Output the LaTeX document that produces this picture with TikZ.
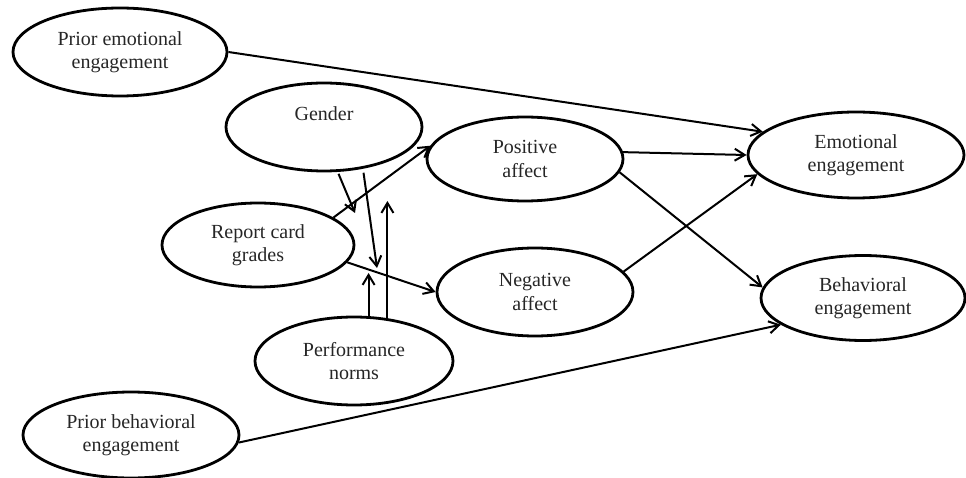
\documentclass[tikz,border=0pt]{standalone}
\usepackage{fontspec}
\setmainfont{Liberation Serif}
\usetikzlibrary{arrows.meta,shapes.geometric}
\tikzset{
  ell/.style={draw, ellipse, line width=2.8pt, inner sep=0pt, align=center,
              font=\fontsize{20}{23.5}\selectfont, text=black!85},
  arr/.style={line width=2pt, -{Straight Barb[length=10pt,width=12pt,line width=2pt]}},
  lbl/.style={inner sep=0pt, font=\fontsize{20}{23.5}\selectfont, text=black!85}
}
\begin{document}
\begin{tikzpicture}[x=1pt,y=-1pt]
\useasboundingbox (0,0) rectangle (966,478);
% ellipses
\node[ell, minimum width=214pt, minimum height=88pt] (pe) at (120,52) {Prior emotional\\engagement};
\node[ell, minimum width=196pt, minimum height=88pt] (gen) at (324,127) {};
\node[lbl] (gentext) at (324,114) {Gender};
\node[ell, minimum width=192pt, minimum height=84pt] (rcg) at (258,245) {Report card\\grades};
\node[ell, minimum width=196pt, minimum height=84pt] (pa) at (525,159) {Positive\\affect};
\node[ell, minimum width=196pt, minimum height=88pt] (na) at (535,292) {Negative\\affect};
\node[ell, minimum width=198pt, minimum height=88pt] (pn) at (354,361) {Performance\\norms};
\node[ell, minimum width=216pt, minimum height=86pt] (ee) at (856,155) {Emotional\\engagement};
\node[ell, minimum width=204pt, minimum height=85pt] (be) at (863,298) {Behavioral\\engagement};
\node[ell, minimum width=216pt, minimum height=86pt] (pb) at (131,435) {Prior behavioral\\engagement};
% free ends
\coordinate (g1) at (355,213);
\coordinate (g2) at (377,268);
\coordinate (p1) at (368,273);
\coordinate (p2) at (388,201);
% connectors
\draw[arr] (pe.east) -- (ee.166);
\draw[arr] (pa.4) -- (ee.west);
\draw[arr] (na.13) -- (ee.191);
\draw[arr] (pa.-8) -- (be.174);
\draw[arr] (pb.-4) -- (be.198);
\draw[arr] (rcg.20) -- (pa.172);
\draw[arr] (rcg.-11) -- (na.west);
\draw[arr, shorten <=2pt] (gen.-73) -- (g1);
\draw[arr, shorten <=4pt] (gen.-47) -- (g2);
\draw[arr] (pn.72) -- (pn.72 |- p1);
\draw[arr] (pn.52) -- (pn.52 |- p2);
\end{tikzpicture}
\end{document}
